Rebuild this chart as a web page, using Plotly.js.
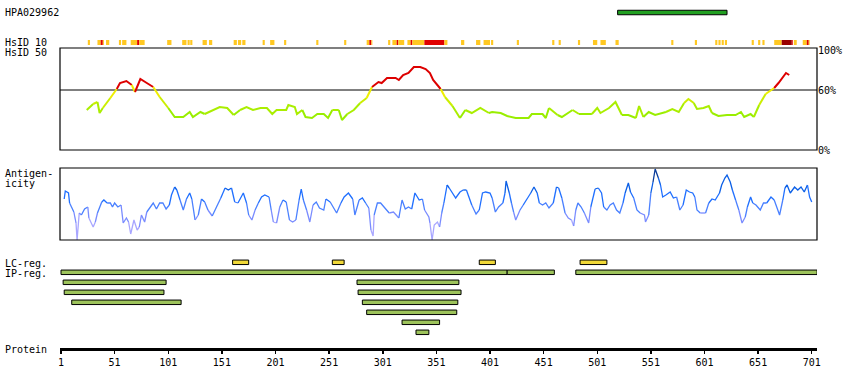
<!DOCTYPE html>
<html>
<head>
<meta charset="utf-8">
<script src="https://cdn.plot.ly/plotly-3.0.1.min.js"></script>
<style>
html,body{margin:0;padding:0;background:#fff;}
#chart{width:850px;height:390px;}
</style>
</head>
<body>
<div id="chart"></div>
<script>
// ---------------- DATA ----------------
const antibodyName = 'HPA029962';
const epitopeStart = [520];
const epitopeEnd = [622];

// HsID 10 identity marks (level 1 = medium, 2 = high, 3 = very high)
const hs10Start = [26,35,38,40,43,55,58,66,72,74,100,114,119,121.5,133,139,162,166,170,189,196,209,239,265,286,288.5,290.4,306,310,314,315.5,324,327,328.6,339.8,358.5,374,388,395,402,426,459,465,483,497,504,518,570,592,611,614,617,620,645,651,655,666,673,682.4,684.3,692.6,696.4,698.2];
const hs10End   = [28,38,40,41,46,57,62,72,74,79,104,118,121,123.5,137,142,165,169,173,191,200,211,241,267,288.5,290.4,291.3,308,314,315.5,321,327,328.6,339.8,358.5,361.3,377,392,401,404,428,461,467,485,501,509,521,572,594,613,616,619,622,647,653,657,673,682.4,683.3,687,696.4,698.2,699.1];
const hs10Level = [1,1,2,1,1,1,1,1,2,1,1,1,1,1,1,1,1,1,1,1,1,1,1,1,1,2,1,1,1,2,1,1,2,1,2,1,1,1,1,1,1,1,1,1,1,1,1,1,1,1,1,1,1,1,1,1,1,3,2,1,1,2,1];

// HsID 50 identity (%)
const hs50Res = [25,31,35,37,40,47,53,56,62,67,
  70,75,81,87,93,101,107,115,121,124,
  131,135,143,149,156,162,168,174,180,187,
  193,198,202,211,213,219,221,226,229,235,
  240,246,250,254,260,263,268,274,280,286,
  291,297,300,305,313,316,320,325,330,336,
  341,345,348,355,359,366,373,378,384,392,
  400,403,411,417,425,437,440,450,453,456,
  464,468,478,484,496,501,504,512,518,524,
  530,537,540,544,549,555,565,571,577,582,
  586,591,594,600,605,608,614,622,630,635,
  638,644,647,652,658,663,666,670,677,680];
const hs50Val = [40,46,48,37,42,52,61,67,69,65,
  58,71,67,63,53,42,33,33,38,33,
  38,36,40,43,42,35,40,43,40,42,
  42,36,40,40,45,43,36,40,33,32,
  36,36,32,40,40,30,36,40,47,52,
  63,68,67,72,72,70,75,77,83,83,
  81,77,70,61,53,44,32,40,37,42,
  37,38,37,34,32,32,36,36,32,42,
  35,33,40,36,36,42,37,42,48,35,
  35,32,44,33,38,35,38,41,38,47,
  51,47,41,42,44,37,34,35,35,38,
  33,36,33,45,56,60,62,67,77,75];
const hs50Ticks = [0,60,100];
const hs50TickText = ['0%','60%','100%'];

// Antigenicity
const agRes = [4,5,8,9,11,13,15,16,18,20,
  23,26,27,31,33,35,39,41,44,47,
  49,51,54,57,59,62,64,66,69,72,
  74,76,79,81,84,87,90,93,96,99,
  102,104,107,109,112,115,118,121,123,126,
  129,132,135,138,142,146,150,154,157,160,
  163,166,169,171,174,176,179,182,185,188,
  191,195,197,199,202,205,208,211,214,217,
  220,223,225,227,230,233,236,239,242,246,
  248,252,255,258,262,265,269,273,275,279,
  282,285,288,290,292,293,296,299,302,307,
  311,316,319,322,325,328,331,335,338,340,
  344,345,347,349,352,354,356,358,361,363,
  366,369,373,376,379,381,384,388,391,394,
  397,401,403,406,409,413,415,416,419,421,
  423,425,429,432,436,439,442,445,447,450,
  453,456,460,463,465,468,471,474,477,479,
  481,483,486,489,493,495,497,499,502,505,
  507,510,513,516,519,522,525,527,530,532,
  535,538,541,545,546,549,551,553,555,558,
  560,562,565,569,572,575,578,581,584,587,
  590,592,594,597,602,605,608,611,615,617,
  620,622,625,627,630,633,636,639,641,644,
  646,649,653,656,659,663,666,669,671,674,
  676,678,681,685,688,691,694,697,699,701];
const agVal = [41,49,47,37,33,28,17,0,27,25,
  31,33,22,13,18,27,38,40,37,37,
  33,37,33,35,17,22,18,6,20,10,
  13,25,18,28,33,37,31,37,37,31,
  35,45,53,50,40,30,41,47,41,20,
  25,41,38,30,24,33,42,52,50,52,
  38,37,43,47,37,25,20,30,37,43,
  45,43,30,18,17,33,40,38,20,18,
  20,40,51,40,30,18,35,38,32,30,
  41,38,33,27,37,43,47,41,25,40,
  42,37,32,10,4,25,37,37,33,27,
  28,22,40,31,33,31,47,40,41,30,
  23,17,0,15,18,13,27,37,55,52,
  47,42,48,50,50,43,35,26,30,47,
  48,47,42,28,33,37,47,59,47,37,
  28,20,30,35,42,47,53,47,37,35,
  37,32,37,53,52,42,27,22,20,14,
  30,37,33,27,17,33,43,51,52,47,
  33,30,35,37,30,27,37,47,57,48,
  42,30,27,25,18,25,47,58,71,62,
  55,43,45,48,42,43,30,35,50,48,
  47,43,30,27,27,37,41,40,47,55,
  62,65,58,50,40,30,17,23,33,43,
  37,35,30,37,37,43,40,32,25,40,
  52,55,47,53,50,53,48,55,43,38];

// LC regions
const lcStart = [161,254,391,485];
const lcEnd   = [176,265,406,510];

// IP regions (row index 1..7)
const ipRow   = [1,1,1,2,2,3,3,4,4,5,6,7];
const ipStart = [1,417,481,3,277,4,278,11,282,286,319,332];
const ipEnd   = [417,461,706,99,372,97,374,113,371,370,354,344];

// Protein axis ticks
const proteinTicks = [1,51,101,151,201,251,301,351,401,451,501,551,601,651,701];

// ---------------- STYLES ----------------
const FONT = 'DejaVu Sans Mono, monospace';
function hs50Color(v){
  if (v >= 62) return '#dd0000';
  if (v >= 55) return '#eeee00';
  if (v >= 46) return '#ccee00';
  if (v >= 38) return '#aaee00';
  if (v >= 31) return '#99ee00';
  return '#66cc00';
}
function agColor(v){
  if (v >= 64) return '#0a3c9a';
  if (v >= 50) return '#0b5fe6';
  if (v >= 38) return '#1f6fff';
  if (v >= 28) return '#4a80ff';
  if (v >= 18) return '#7a8cff';
  return '#a8a6ff';
}
const levelColor = {1:'#ffc822', 2:'#e00000', 3:'#990000'};

function coloredSegments(xs, ys, colorFn, yaxis, width){
  const groups = [];
  let cur = null;
  for (let i = 0; i < xs.length - 1; i++){
    const c = colorFn((ys[i] + ys[i+1]) / 2);
    if (!cur || cur.color !== c){
      cur = {x:[xs[i]], y:[ys[i]], color:c};
      groups.push(cur);
    }
    cur.x.push(xs[i+1]);
    cur.y.push(ys[i+1]);
  }
  return groups.map(g => ({
    type:'scatter', mode:'lines', x:g.x, y:g.y, xaxis:'x', yaxis:yaxis,
    line:{color:g.color, width:width}, hoverinfo:'skip', showlegend:false
  }));
}

const traces = [];
traces.push(...coloredSegments(hs50Res, hs50Val, hs50Color, 'y', 2));
traces.push(...coloredSegments(agRes, agVal, agColor, 'y2', 1.3));

// HsID 10 marks
traces.push({
  type:'bar', orientation:'h', xaxis:'x', yaxis:'y4',
  y: hs10Start.map(() => 42.5),
  base: hs10Start,
  x: hs10Start.map((s,i) => hs10End[i] - s),
  width: 5,
  marker:{color: hs10Level.map(l => levelColor[l]), line:{width:0}},
  hoverinfo:'skip', showlegend:false
});
// Epitope bar
traces.push({
  type:'bar', orientation:'h', xaxis:'x', yaxis:'y4',
  y: epitopeStart.map(() => 12.5),
  base: epitopeStart,
  x: epitopeStart.map((s,i) => epitopeEnd[i] - s),
  width: 4.5,
  marker:{color:'#22a022', line:{color:'#000', width:1}},
  hoverinfo:'skip', showlegend:false
});
// LC regions
traces.push({
  type:'bar', orientation:'h', xaxis:'x', yaxis:'y3',
  y: lcStart.map(() => 0),
  base: lcStart,
  x: lcStart.map((s,i) => lcEnd[i] - s),
  width: 0.45,
  marker:{color:'#f0d838', line:{color:'#000', width:1}},
  hoverinfo:'skip', showlegend:false
});
// IP regions
traces.push({
  type:'bar', orientation:'h', xaxis:'x', yaxis:'y3',
  y: ipRow,
  base: ipStart,
  x: ipStart.map((s,i) => ipEnd[i] - s),
  width: 0.45,
  marker:{color:'#9dc35b', line:{color:'#000', width:1}},
  hoverinfo:'skip', showlegend:false
});

const H = 390;
const py = p => (H - p) / H;      // pixel row -> paper y
const PLOT_L = 60, PLOT_W = 757;
const px = p => (p - PLOT_L) / PLOT_W;

function label(text, yPix){
  return {text:text, xref:'paper', yref:'paper', x:px(3), y:py(yPix),
    xanchor:'left', yanchor:'middle', showarrow:false,
    font:{family:FONT, size:10, color:'#000'}};
}

const layout = {
  width:850, height:390,
  margin:{l:PLOT_L, r:850-PLOT_L-PLOT_W, t:0, b:0, pad:0},
  paper_bgcolor:'#fff', plot_bgcolor:'rgba(0,0,0,0)',
  showlegend:false,
  barmode:'overlay',
  font:{family:FONT, size:10, color:'#000'},
  xaxis:{
    range:[0.07, 705.9], anchor:'free', position:py(349),
    showgrid:false, zeroline:false,
    showline:true, linecolor:'#000', linewidth:3,
    ticks:'outside', ticklen:3, tickwidth:1.5, tickcolor:'#000',
    tickvals:proteinTicks, ticktext:proteinTicks.map(String),
    tickfont:{family:FONT, size:10, color:'#000'}
  },
  yaxis:{
    domain:[py(150), py(48)], range:[0,102], anchor:'x', side:'right',
    showgrid:false, zeroline:false, showline:false, ticks:'',
    tickvals:hs50Ticks, ticktext:hs50TickText,
    tickfont:{family:FONT, size:10, color:'#000'}
  },
  yaxis2:{
    domain:[py(240), py(168)], range:[0,72], anchor:'x',
    showgrid:false, zeroline:false, showline:false, showticklabels:false, ticks:''
  },
  yaxis3:{
    domain:[py(337.3), py(257.3)], range:[7.5,-0.5], anchor:'x',
    visible:false, showgrid:false, zeroline:false
  },
  yaxis4:{
    domain:[py(48), 1], range:[48,0], anchor:'x',
    visible:false, showgrid:false, zeroline:false
  },
  shapes:[
    {type:'line', xref:'x domain', yref:'y', x0:0, x1:1, y0:60, y1:60,
     line:{color:'#000', width:1}, layer:'below'},
    {type:'rect', xref:'x domain', yref:'y domain', x0:0, x1:1, y0:0, y1:1,
     line:{color:'#000', width:1.2}, layer:'above'},
    {type:'rect', xref:'x domain', yref:'y2 domain', x0:0, x1:1, y0:0, y1:1,
     line:{color:'#000', width:1.2}, layer:'above'}
  ],
  annotations:[
    label(antibodyName, 12.5),
    label('HsID 10', 42.5),
    label('HsID 50', 52.5),
    label('Antigen-', 173.5),
    label('icity', 183.5),
    label('LC-reg.', 263),
    label('IP-reg.', 273.5),
    label('Protein', 349.5)
  ]
};

Plotly.newPlot('chart', traces, layout, {staticPlot:true, displayModeBar:false});
</script>
</body>
</html>
